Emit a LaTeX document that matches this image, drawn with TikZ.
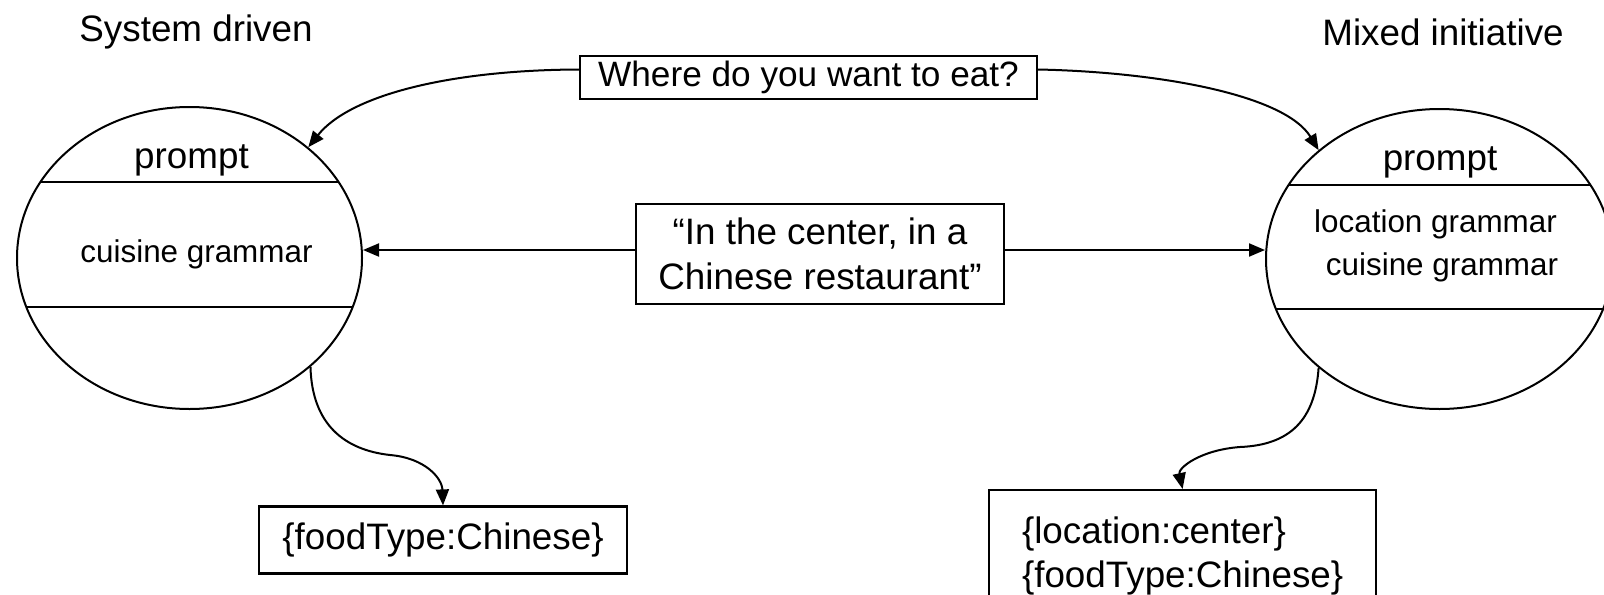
\documentclass[tikz,border=0pt]{standalone}
\usepackage{fontspec}
\setmainfont{Liberation Sans}
\usetikzlibrary{shapes.geometric,arrows.meta}
\begin{document}
\begin{tikzpicture}[x=0.5pt,y=-0.5pt,
  txt/.style={font=\fontsize{18.4}{22.5}\selectfont},
  small/.style={font=\fontsize{15.7}{21.6}\selectfont},
  box/.style={draw, line width=1.1pt, inner sep=0pt, txt},
  oval/.style 2 args={draw, ellipse, line width=1pt, inner sep=0pt,
    path picture={
      \draw[line width=1pt] ([yshift=#1]path picture bounding box.west) -- ([yshift=#1]path picture bounding box.east);
      \draw[line width=1pt] ([yshift=#2]path picture bounding box.west) -- ([yshift=#2]path picture bounding box.east);
    }},
  arr/.style={line width=1pt, -{Triangle[length=8pt,width=6.5pt]}},
]
\useasboundingbox (0,0) rectangle (1604,594);
\fill[white] (0,0) rectangle (1604,594);

% column titles
\node[txt, anchor=base] (sys) at (196,41) {System driven};
\node[txt, anchor=base] (mix) at (1443,45) {Mixed initiative};

% dialogue states with their prompt / grammar compartments
\node[oval={38pt}{-24.5pt}, minimum width=172.5pt, minimum height=151pt] (L) at (189.5,258) {};
\node[oval={37.25pt}{-24.75pt}, minimum width=173.5pt, minimum height=150pt] (R) at (1439.5,259) {};

\node[txt, anchor=base] (Lp) at (191.5,168) {prompt};
\node[small, anchor=base] (Lg) at (196.5,262) {cuisine grammar};
\node[txt, anchor=base] (Rp) at (1440,170) {prompt};
\node[small, anchor=base] (Rg1) at (1435.5,232) {location grammar};
\node[small, anchor=base] (Rg2) at (1442,275) {cuisine grammar};

% system prompt and user answer
\node[box, font=\fontsize{17.6}{22}\selectfont,
  minimum width=228.5pt, minimum height=21.5pt] (Q) at (808.5,77.5) {Where do you want to eat?};
\node[box, align=center, minimum width=184pt, minimum height=50pt] (M) at (820,254)
  {``In the center, in a\\ Chinese restaurant''};

% resulting slot values
\node[box, minimum width=184pt, minimum height=33.5pt] (B1) at (443,540) {\{foodType:Chinese\}};
\node[box, anchor=north west, align=left, inner xsep=10.5pt, inner ysep=13.5pt,
  minimum width=193.5pt, font=\fontsize{18.4}{22}\selectfont] (B2) at (988,489)
  {\{location:center\}\\ \{foodType:Chinese\}};

% connectors
\draw[arr] ([yshift=4pt]Q.west) .. controls (450,70) and (350,95) .. (L.43);
\draw[arr] ([yshift=4pt]Q.east) .. controls (1160,72) and (1285,95) .. (R.138);
\draw[arr] ([yshift=2pt]M.west) -- ([yshift=4pt]L.east);
\draw[arr] ([yshift=2pt]M.east) -- ([yshift=4.5pt]R.west);
\draw[arr] (L.-42) .. controls (312,425) and (345,450) .. (390,455)
  .. controls (425,458) and (442,478) .. (B1.north);
\draw[arr] (R.222) .. controls (1315,420) and (1290,445) .. (1240,447)
  .. controls (1200,450) and (1178,468) .. (B2.north);
\end{tikzpicture}
\end{document}
